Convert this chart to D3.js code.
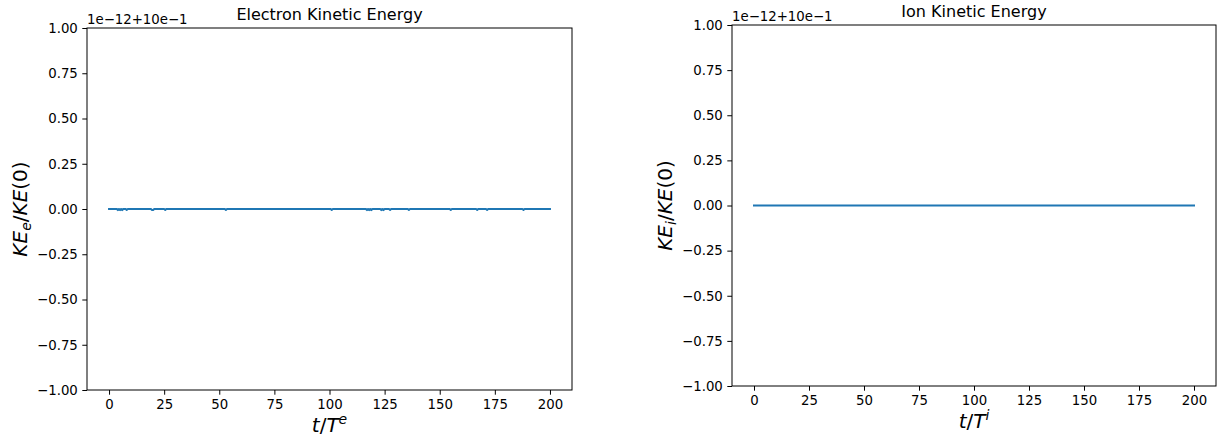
<!DOCTYPE html>
<html>
<head>
<meta charset="utf-8">
<script src="https://cdn.jsdelivr.net/npm/d3@7"></script>
<style>
  html, body { margin: 0; padding: 0; background: #fff; }
  svg { display: block; }
  text { font-family: "DejaVu Sans", sans-serif; fill: #000; }
</style>
</head>
<body>
<svg id="chart" width="1222" height="438"></svg>
<script>
// Electron kinetic energy (offset-removed, in units of 1e-12) vs t/T^e
const eTime = [0, 3.5, 4, 4.5, 5, 5.5, 6, 6.5, 7, 7.5, 8, 8.5, 19, 19.5, 20, 20.5, 21, 25, 25.5, 26,
               52.5, 53, 53.5, 100.5, 101, 101.5, 116.5, 117, 117.5, 118, 118.5, 119, 119.5,
               123, 123.5, 124, 124.5, 125, 125.5, 127, 127.5, 128, 135.5, 136, 136.5,
               154.5, 155, 155.5, 166.5, 167, 167.5, 171, 171.5, 172, 187.5, 188, 188.5, 200];
const eKE   = [0, 0, -0.006, 0, -0.006, 0, -0.006, 0, 0, 0, -0.005, 0, 0, -0.006, -0.006, 0, 0, 0, -0.005, 0,
               0, -0.005, 0, 0, -0.005, 0, 0, -0.006, 0, -0.006, 0, -0.006, 0,
               0, -0.006, 0, -0.006, 0, 0, 0, -0.005, 0, 0, -0.005, 0,
               0, -0.005, 0, 0, -0.005, 0, 0, -0.005, 0, 0, -0.005, 0, 0];

// Ion kinetic energy vs t/T^i
const iTime = [0, 50, 100, 150, 200];
const iKE   = [0, 0, 0, 0, 0];

const xTicks = [0, 25, 50, 75, 100, 125, 150, 175, 200];
const yTicks = [-1, -0.75, -0.5, -0.25, 0, 0.25, 0.5, 0.75, 1];
const offsetLabel = "1e\u221212+10e\u22121";

const svg = d3.select("#chart");
const fmt = v => d3.format(".2f")(v).replace("-", "\u2212");

function panel(cfg) {
  const x = d3.scaleLinear().domain([-10, 210]).range([cfg.left, cfg.right]);
  const y = d3.scaleLinear().domain([-1, 1]).range([cfg.bottom, cfg.top]);
  const g = svg.append("g");

  // axes
  const xAxis = d3.axisBottom(x).tickValues(xTicks).tickSize(4.7).tickPadding(4.5)
    .tickFormat(d3.format("d"));
  const yAxis = d3.axisLeft(y).tickValues(yTicks).tickSize(4.7).tickPadding(4.5)
    .tickFormat(fmt);

  const gx = g.append("g").attr("transform", `translate(0,${cfg.bottom})`).call(xAxis);
  const gy = g.append("g").attr("transform", `translate(${cfg.left},0)`).call(yAxis);
  [gx, gy].forEach(a => {
    a.select(".domain").remove();
    a.selectAll(".tick line").attr("stroke", "#000").attr("stroke-width", 1);
    a.selectAll(".tick text").style("font-size", "13.3px").style("font-family", "DejaVu Sans");
  });

  // data line
  const line = d3.line().x((d, i) => x(cfg.t[i])).y(d => y(d));
  g.append("path").datum(cfg.v)
    .attr("fill", "none").attr("stroke", "#1f77b4").attr("stroke-width", 2)
    .attr("stroke-linejoin", "round").attr("stroke-linecap", "square")
    .attr("d", line);

  // frame
  g.append("rect")
    .attr("x", cfg.left).attr("y", cfg.top)
    .attr("width", cfg.right - cfg.left).attr("height", cfg.bottom - cfg.top)
    .attr("fill", "none").attr("stroke", "#000").attr("stroke-width", 1);

  // offset text
  g.append("text").attr("x", cfg.left).attr("y", cfg.top - 4)
    .style("font-size", "13.3px").text(offsetLabel);

  // title
  g.append("text").attr("x", (cfg.left + cfg.right) / 2).attr("y", cfg.top - 8.5)
    .attr("text-anchor", "middle").style("font-size", "16px").text(cfg.title);

  // x label: t/T^sup
  const xl = g.append("text").attr("x", (cfg.left + cfg.right) / 2).attr("y", cfg.bottom + 42)
    .attr("text-anchor", "middle").style("font-size", "20px");
  xl.append("tspan").style("font-style", "italic").text("t");
  xl.append("tspan").text("/");
  xl.append("tspan").style("font-style", "italic").text("T");
  xl.append("tspan").style("font-style", "italic").style("font-size", "14px")
    .attr("dy", -8).text(cfg.sup);

  // y label: KE_sub/KE(0)
  const cy = (cfg.top + cfg.bottom) / 2;
  const yl = g.append("text")
    .attr("transform", `translate(${cfg.left - 60},${cy}) rotate(-90)`)
    .attr("text-anchor", "middle").style("font-size", "20px");
  yl.append("tspan").style("font-style", "italic").text("KE");
  yl.append("tspan").style("font-style", "italic").style("font-size", "14px")
    .attr("dy", 4).text(cfg.sub);
  yl.append("tspan").attr("dy", -4).text("/");
  yl.append("tspan").style("font-style", "italic").text("KE");
  yl.append("tspan").text("(0)");
}

panel({ left: 87, right: 572, top: 28, bottom: 390, t: eTime, v: eKE,
        title: "Electron Kinetic Energy", sup: "e", sub: "e" });
panel({ left: 732, right: 1216, top: 25, bottom: 386, t: iTime, v: iKE,
        title: "Ion Kinetic Energy", sup: "i", sub: "i" });
</script>
</body>
</html>
